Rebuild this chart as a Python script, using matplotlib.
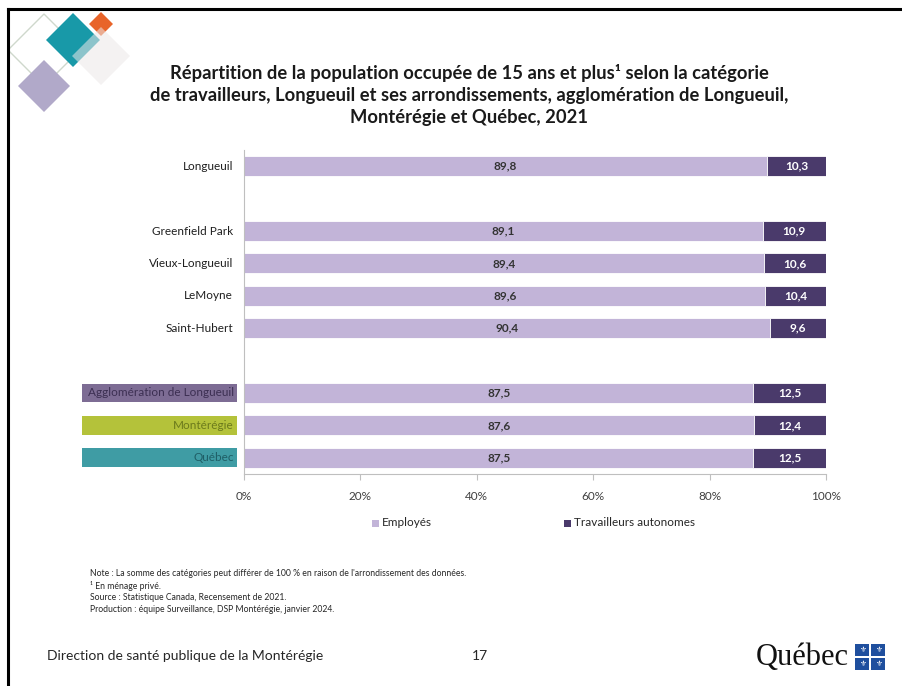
import numpy as np
import matplotlib
matplotlib.use("Agg")
import matplotlib.pyplot as plt
from matplotlib.patches import Polygon, Rectangle
from matplotlib.lines import Line2D
from matplotlib.transforms import blended_transform_factory

plt.rcParams['font.family'] = ['Lato', 'DejaVu Sans']

# data
categories = ["Longueuil", "Greenfield Park", "Vieux-Longueuil", "LeMoyne",
              "Saint-Hubert", "Agglomération de Longueuil", "Montérégie", "Québec"]
slots = [0, 2, 3, 4, 5, 7, 8, 9]
employes = [89.8, 89.1, 89.4, 89.6, 90.4, 87.5, 87.6, 87.5]
autonomes = [10.3, 10.9, 10.6, 10.4, 9.6, 12.5, 12.4, 12.5]
series_names = ["Employés", "Travailleurs autonomes"]
xticks = [0, 20, 40, 60, 80, 100]
xtick_labels = ["0%", "20%", "40%", "60%", "80%", "100%"]

# highlighted categories: (box colour, text colour)
highlights = {
    "Agglomération de Longueuil": ("#7d6c94", "#3c2f52"),
    "Montérégie": ("#b4c23a", "#6b7a1c"),
    "Québec": ("#3f9ca4", "#1f5e66"),
}

c_light = "#c2b4d8"
c_dark = "#4a3a6b"

W, H = 902, 686
fig = plt.figure(figsize=(W / 100, H / 100), dpi=100)


def fx(px):
    return px / W


def fy(py):
    return 1 - py / H


ax = fig.add_axes([fx(244), fy(474), fx(826) - fx(244), fy(150) - fy(474)])

ax.barh(slots, employes, height=0.62, color=c_light, edgecolor="white", linewidth=0.6)
ax.barh(slots, autonomes, left=employes, height=0.62, color=c_dark,
        edgecolor="white", linewidth=0.6)

for s, e, a in zip(slots, employes, autonomes):
    ax.text(e / 2, s, f"{e:.1f}".replace(".", ","), ha="center", va="center",
            fontsize=8.5, fontweight="bold", color="#333333")
    ax.text(e + a / 2, s, f"{a:.1f}".replace(".", ","), ha="center", va="center",
            fontsize=8.5, fontweight="bold", color="white")

ax.set_xlim(0, 100)
ax.set_ylim(9.5, -0.5)
ax.set_xticks(xticks)
ax.set_xticklabels(xtick_labels, fontsize=8.5, color="#404040")
ax.tick_params(axis="x", length=4, color="#bfbfbf", pad=8)
ax.set_yticks([])
for side in ["top", "right"]:
    ax.spines[side].set_visible(False)
ax.spines["left"].set_color("#bfbfbf")
ax.spines["bottom"].set_color("#bfbfbf")

# category labels
tr = blended_transform_factory(fig.transFigure, ax.transData)
for cat, s in zip(categories, slots):
    if cat in highlights:
        box, tc = highlights[cat]
        ax.add_patch(Rectangle((fx(82), s - 0.29), fx(237) - fx(82), 0.58,
                               transform=tr, facecolor=box, edgecolor="none",
                               clip_on=False))
        ax.text(fx(234), s, cat, transform=tr, ha="right", va="center",
                fontsize=8.5, color=tc)
    else:
        ax.text(fx(233), s, cat, transform=tr, ha="right", va="center",
                fontsize=8.5, color="#1f1f1f")

# legend
for (name, col, px) in [(series_names[0], c_light, 376), (series_names[1], c_dark, 568)]:
    fig.patches.append(Rectangle((fx(px - 4), fy(527)), fx(7), 7 / H,
                                 transform=fig.transFigure, facecolor=col,
                                 edgecolor="none"))
    fig.text(fx(px + 6), fy(523), name, ha="left", va="center", fontsize=8.5,
             color="#262626")

# title
title = ("Répartition de la population occupée de 15 ans et plus¹ selon la catégorie\n"
         "de travailleurs, Longueuil et ses arrondissements, agglomération de Longueuil,\n"
         "Montérégie et Québec, 2021")
fig.text(fx(469), fy(95), title, ha="center", va="center", fontsize=13.2,
         fontweight="bold", color="#1a1a1a", linespacing=1.38)

# notes
notes = ["Note : La somme des catégories peut différer de 100 % en raison de l'arrondissement des données.",
         "¹ En ménage privé.",
         "Source : Statistique Canada, Recensement de 2021.",
         "Production : équipe Surveillance, DSP Montérégie, janvier 2024."]
for i, line in enumerate(notes):
    fig.text(fx(90), fy(574 + i * 11.7), line, ha="left", va="center",
             fontsize=6.2, color="#262626")

# footer
fig.text(fx(47), fy(656), "Direction de santé publique de la Montérégie",
         ha="left", va="center", fontsize=10, color="#262626")
fig.text(fx(480), fy(656), "17", ha="center", va="center", fontsize=10,
         color="#262626")
fig.text(fx(849), fy(657), "Québec", ha="right", va="center", fontsize=22,
         family="Liberation Serif", color="#111111")
blue = "#1f4f9e"
for (qx, qy) in [(855, 644), (871, 644), (855, 658), (871, 658)]:
    fig.patches.append(Rectangle((fx(qx), fy(qy + 12)), fx(14), 12 / H,
                                 transform=fig.transFigure, facecolor=blue,
                                 edgecolor="none"))
    fig.text(fx(qx + 7), fy(qy + 6), "⚜", ha="center", va="center",
             fontsize=5.5, color="white", family="DejaVu Sans")


# logo diamonds
def diamond(cx, cy, h, **kw):
    pts = [(fx(cx), fy(cy - h)), (fx(cx + h), fy(cy)), (fx(cx), fy(cy + h)),
           (fx(cx - h), fy(cy))]
    fig.patches.append(Polygon(pts, closed=True, transform=fig.transFigure, **kw))


diamond(44, 50, 36, facecolor="none", edgecolor="#cfd8cc", linewidth=1)
diamond(73, 40, 27, facecolor="#1899a8", edgecolor="none")
diamond(101, 24, 12, facecolor="#e8642a", edgecolor="none")
diamond(101, 56, 29, facecolor="#ece8e8", edgecolor="none", alpha=0.55)
diamond(44, 86, 26, facecolor="#b1a9c9", edgecolor="none")

# slide border (top and left)
fig.lines.append(Line2D([fx(8), 1], [fy(9), fy(9)], transform=fig.transFigure,
                        color="black", linewidth=2.2))
fig.lines.append(Line2D([fx(8), fx(8)], [fy(9), 0], transform=fig.transFigure,
                        color="black", linewidth=2.2))

fig.savefig("out.png", dpi=100)
